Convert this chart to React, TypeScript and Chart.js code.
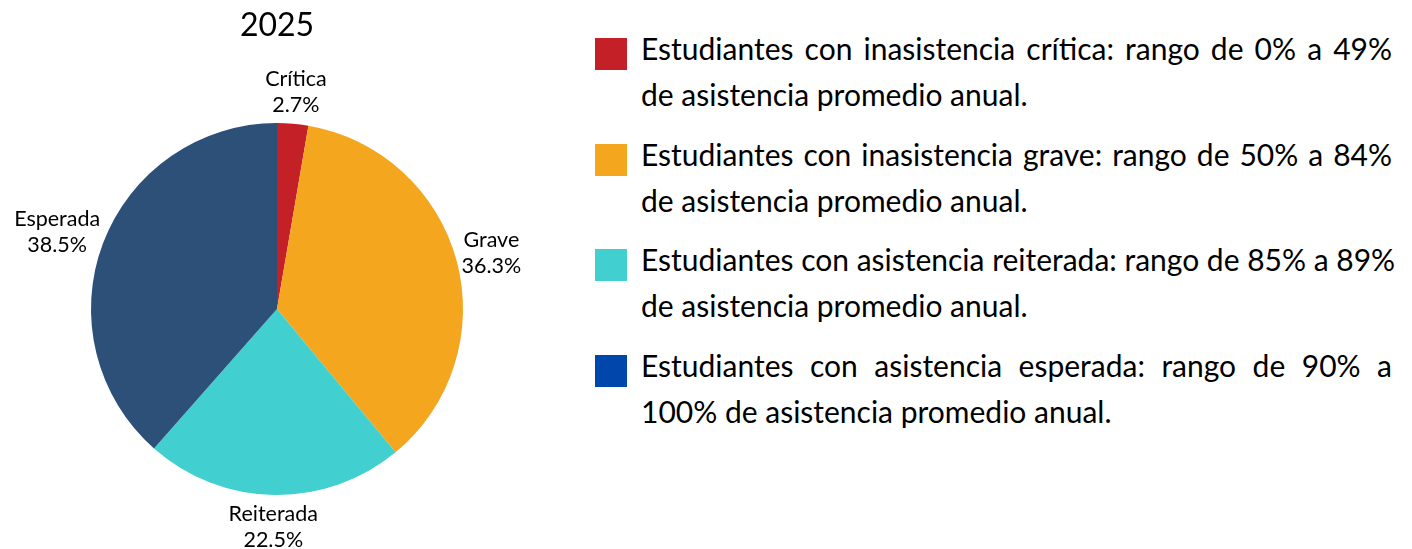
import React, { useEffect, useRef } from "react";
import { Chart, registerables } from "chart.js";

Chart.register(...registerables);

const chartTitle = "2025";
const categories = ["Crítica", "Grave", "Reiterada", "Esperada"];
const values = [2.7, 36.3, 22.5, 38.5];
const sliceColors = ["#C32127", "#F4A61E", "#41CFD0", "#2D5079"];
const legendColors = ["#C32127", "#F4A61E", "#41CFD0", "#0047AB"];
const legendLines: string[][] = [
  ["Estudiantes con inasistencia crítica: rango de 0% a 49%", "de asistencia promedio anual."],
  ["Estudiantes con inasistencia grave: rango de 50% a 84%", "de asistencia promedio anual."],
  ["Estudiantes con asistencia reiterada: rango de 85% a 89%", "de asistencia promedio anual."],
  ["Estudiantes con asistencia esperada: rango de 90% a", "100% de asistencia promedio anual."],
];

const FONT = "Lato, 'Open Sans', sans-serif";

const labelPlugin = {
  id: "outerLabels",
  afterDatasetsDraw(chart: any) {
    const ctx = chart.ctx as CanvasRenderingContext2D;
    const meta = chart.getDatasetMeta(0);
    const ca = chart.chartArea;
    ctx.save();
    // title
    ctx.fillStyle = "#000";
    ctx.font = `32px ${FONT}`;
    ctx.textAlign = "center";
    ctx.textBaseline = "middle";
    ctx.fillText(chartTitle, (ca.left + ca.right) / 2, 26);

    ctx.font = `21.5px ${FONT}`;
    const lh = 26;
    meta.data.forEach((arc: any, i: number) => {
      const p = arc.getProps(["x", "y", "startAngle", "endAngle", "outerRadius"], true);
      const mid = (p.startAngle + p.endAngle) / 2;
      const c = Math.cos(mid);
      const s = Math.sin(mid);
      const r = p.outerRadius + 6;
      const line1 = categories[i];
      const line2 = values[i].toFixed(1) + "%";
      const w = Math.max(ctx.measureText(line1).width, ctx.measureText(line2).width);
      const hw = w / 2;
      const hh = lh;
      const cx = p.x + r * c + c * hw;
      const cy = p.y + r * s + s * hh;
      ctx.fillText(line1, cx, cy - lh / 2);
      ctx.fillText(line2, cx, cy + lh / 2);
    });
    ctx.restore();
  },
};

export default function App() {
  const canvasRef = useRef<HTMLCanvasElement | null>(null);

  useEffect(() => {
    if (!canvasRef.current) return;
    const chart = new Chart(canvasRef.current, {
      type: "pie",
      data: {
        labels: categories,
        datasets: [
          {
            data: values,
            backgroundColor: sliceColors,
            borderWidth: 0,
          },
        ],
      },
      options: {
        responsive: false,
        animation: false,
        layout: { padding: { left: 91, right: 97, top: 123, bottom: 54 } },
        plugins: {
          legend: { display: false },
          tooltip: { enabled: false },
          title: { display: false },
        },
      },
      plugins: [labelPlugin],
    });
    return () => chart.destroy();
  }, []);

  return (
    <div style={{ position: "fixed", left: 0, top: 0, width: 1412, height: 549, background: "#fff" }}>
      <canvas ref={canvasRef} width={560} height={549} style={{ position: "absolute", left: 0, top: 0 }} />
      <div style={{ position: "absolute", left: 595, top: 25, width: 797, fontFamily: FONT, fontSize: 30, color: "#000" }}>
        {legendLines.map((lines, i) => (
          <div key={i} style={{ position: "relative", paddingLeft: 46, height: 105.6 }}>
            <div style={{ position: "absolute", left: 0, top: 13, width: 32, height: 32, background: legendColors[i] }} />
            <div style={{ lineHeight: "46px", whiteSpace: "nowrap", textAlign: "justify", textAlignLast: "justify" as any }}>{lines[0]}</div>
            <div style={{ lineHeight: "46px", whiteSpace: "nowrap" }}>{lines[1]}</div>
          </div>
        ))}
      </div>
    </div>
  );
}
